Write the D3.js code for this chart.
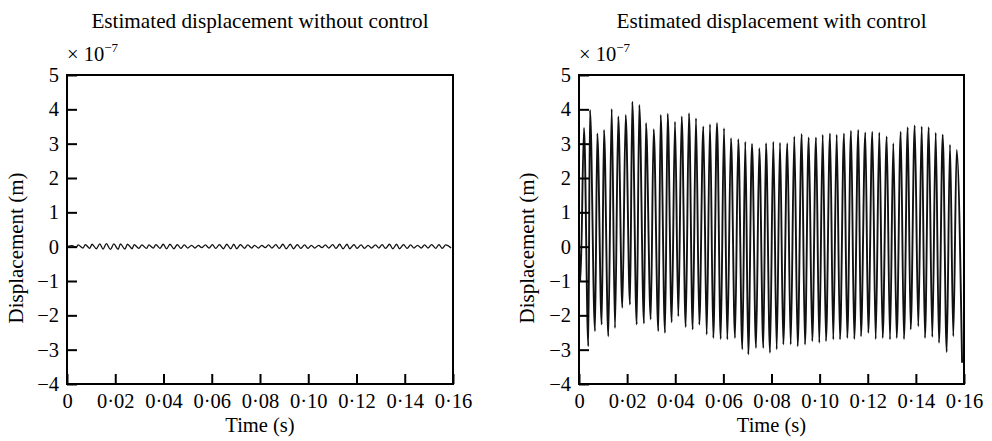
<!DOCTYPE html>
<html>
<head>
<meta charset="utf-8">
<script src="https://cdn.jsdelivr.net/npm/d3@7"></script>
<style>
  html, body { margin: 0; padding: 0; background: #fff; }
  svg { display: block; }
  text { font-family: "Liberation Serif", "DejaVu Serif", serif; fill: #000; }
</style>
</head>
<body>
<svg id="chart" width="992" height="441"></svg>
<script>
// ---- data (displacement in units of 1e-7 m, time in s) ----
const titles = ["Estimated displacement without control", "Estimated displacement with control"];
const xTicks = [0, 0.02, 0.04, 0.06, 0.08, 0.10, 0.12, 0.14, 0.16];
const yTicks = [-4, -3, -2, -1, 0, 1, 2, 3, 4, 5];

const peakT = [0.00208, 0.00457, 0.00761, 0.01039, 0.01359, 0.01633, 0.01941, 0.02215, 0.02506, 0.02784,
  0.03104, 0.03395, 0.03686, 0.03990, 0.04268, 0.04571, 0.04862, 0.05166, 0.05444, 0.05735,
  0.06026, 0.06317, 0.06620, 0.06911, 0.07190, 0.07493, 0.07771, 0.08075, 0.08353, 0.08657,
  0.08948, 0.09255, 0.09546, 0.09849, 0.10128, 0.10431, 0.10709, 0.11013, 0.11304, 0.11607,
  0.11898, 0.12189, 0.12480, 0.12787, 0.13062, 0.13369, 0.13660, 0.13951, 0.14242, 0.14533,
  0.14824, 0.15115, 0.15418, 0.15696];
const troughT = [0.00387, 0.00665, 0.00943, 0.01218, 0.01496, 0.01800, 0.02119, 0.02398, 0.02701, 0.02980,
  0.03296, 0.03574, 0.03852, 0.04127, 0.04434, 0.04725, 0.05000, 0.05307, 0.05582, 0.05889,
  0.06164, 0.06483, 0.06787, 0.07036, 0.07356, 0.07660, 0.07938, 0.08216, 0.08491, 0.08798,
  0.09088, 0.09392, 0.09695, 0.09986, 0.10265, 0.10568, 0.10847, 0.11150, 0.11441, 0.11719,
  0.12023, 0.12330, 0.12621, 0.12925, 0.13203, 0.13506, 0.13785, 0.14101, 0.14379, 0.14683,
  0.14961, 0.15281, 0.15555, 0.15920];

// with control
const peakWith = [3.46, 3.98, 3.30, 3.40, 4.01, 3.79, 3.84, 4.22, 4.13, 3.60,
  3.42, 3.84, 3.87, 3.64, 3.79, 3.89, 3.74, 3.50, 3.57, 3.60,
  3.45, 3.16, 3.13, 3.06, 2.99, 2.87, 3.01, 3.06, 3.03, 3.01,
  3.21, 3.28, 3.18, 3.18, 3.26, 3.30, 3.26, 3.30, 3.38, 3.40,
  3.33, 3.35, 3.33, 3.21, 3.01, 3.35, 3.48, 3.53, 3.50, 3.48,
  3.32, 3.26, 2.97, 2.82];
const troughWith = [-2.90, -2.46, -2.27, -2.61, -2.37, -1.78, -1.69, -2.27, -2.24, -2.12,
  -2.46, -2.51, -2.20, -2.03, -2.34, -2.41, -2.27, -2.56, -2.66, -2.69,
  -2.70, -2.66, -2.99, -3.14, -2.95, -2.95, -3.09, -2.99, -2.85, -2.85,
  -2.90, -2.85, -2.75, -2.80, -2.75, -2.70, -2.70, -2.66, -2.69, -2.61,
  -2.51, -2.69, -2.66, -2.70, -2.66, -2.69, -2.41, -2.32, -2.66, -2.63,
  -2.80, -3.07, -2.61, -3.38];
const startWithT = [0, 0.0006];
const startWithV = [0.3, -1.0];

// without control
const peakWithout = [0.03, 0.05, 0.06, 0.07, 0.08, 0.09, 0.08, 0.08, 0.07, 0.06,
  0.05, 0.05, 0.06, 0.07, 0.07, 0.06, 0.05, 0.04, 0.04, 0.05,
  0.06, 0.06, 0.07, 0.07, 0.06, 0.05, 0.04, 0.04, 0.05, 0.06,
  0.07, 0.07, 0.06, 0.05, 0.04, 0.04, 0.05, 0.06, 0.07, 0.07,
  0.06, 0.05, 0.04, 0.05, 0.06, 0.07, 0.07, 0.06, 0.05, 0.04,
  0.05, 0.06, 0.06, 0.05];
const troughWithout = [-0.02, -0.04, -0.05, -0.06, -0.07, -0.08, -0.08, -0.07, -0.06, -0.05,
  -0.05, -0.04, -0.05, -0.06, -0.06, -0.05, -0.04, -0.04, -0.03, -0.04,
  -0.05, -0.06, -0.06, -0.06, -0.05, -0.04, -0.04, -0.03, -0.04, -0.05,
  -0.06, -0.06, -0.05, -0.05, -0.04, -0.03, -0.04, -0.05, -0.06, -0.06,
  -0.05, -0.05, -0.04, -0.04, -0.05, -0.06, -0.06, -0.05, -0.04, -0.04,
  -0.04, -0.05, -0.05, -0.04];
const startWithoutT = [0];
const startWithoutV = [0];

function buildSeries(sT, sV, pT, pV, tT, tV) {
  const pts = [];
  sT.forEach((t, i) => pts.push({t, v: sV[i]}));
  pT.forEach((t, i) => pts.push({t, v: pV[i]}));
  tT.forEach((t, i) => pts.push({t, v: tV[i]}));
  pts.sort((a, b) => a.t - b.t);
  return pts;
}
const seriesWithout = buildSeries(startWithoutT, startWithoutV, peakT, peakWithout, troughT, troughWithout);
const seriesWith = buildSeries(startWithT, startWithV, peakT, peakWith, troughT, troughWith);

// ---- layout ----
const svg = d3.select("#chart");
const panels = [
  {left: 67, right: 453, data: seriesWithout, title: titles[0], ylabX: 23},
  {left: 579, right: 964, data: seriesWith, title: titles[1], ylabX: 534}
];
const plotTop = 75, plotBottom = 384;
const fmtX = d => d === 0 ? "0" : d3.format(".2f")(d).replace(".", "\u00B7");

panels.forEach((p, idx) => {
  const x = d3.scaleLinear().domain([0, 0.16]).range([p.left, p.right]);
  const y = d3.scaleLinear().domain([-4, 5]).range([plotBottom, plotTop]);
  const g = svg.append("g");

  const clipId = "clip" + idx;
  svg.append("clipPath").attr("id", clipId).append("rect")
    .attr("x", p.left).attr("y", plotTop).attr("width", p.right - p.left).attr("height", plotBottom - plotTop);

  const line = d3.line().x(d => x(d.t)).y(d => y(d.v)).curve(d3.curveMonotoneX);
  g.append("path").datum(p.data)
    .attr("clip-path", `url(#${clipId})`)
    .attr("fill", "none").attr("stroke", "#111")
    .attr("stroke-width", idx === 0 ? 1.3 : 1.9).attr("stroke-linejoin", "round")
    .attr("d", line);

  // axes
  const xAxis = d3.axisBottom(x).tickValues(xTicks).tickFormat(fmtX)
    .tickSizeInner(-10).tickSizeOuter(0).tickPadding(9);
  const gx = g.append("g").attr("transform", `translate(0,${plotBottom})`).call(xAxis);
  gx.attr("font-family", null);
  gx.select(".domain").remove();
  gx.selectAll(".tick line").attr("stroke", "#000").attr("stroke-width", 2);
  gx.selectAll(".tick text").attr("font-size", 20.5);

  const yAxis = d3.axisLeft(y).tickValues(yTicks).tickFormat(d3.format("d"))
    .tickSizeInner(-10).tickSizeOuter(0).tickPadding(8);
  const gy = g.append("g").attr("transform", `translate(${p.left},0)`).call(yAxis);
  gy.attr("font-family", null);
  gy.select(".domain").remove();
  gy.selectAll(".tick line").attr("stroke", "#000").attr("stroke-width", 2);
  gy.selectAll(".tick text").attr("font-size", 20.5);

  // frame
  g.append("rect").attr("x", p.left).attr("y", plotTop)
    .attr("width", p.right - p.left).attr("height", plotBottom - plotTop)
    .attr("fill", "none").attr("stroke", "#000").attr("stroke-width", 2);

  // title
  g.append("text").attr("x", (p.left + p.right) / 2).attr("y", 28)
    .attr("text-anchor", "middle").attr("font-size", 21.2).text(p.title);

  // exponent
  const ex = g.append("text").attr("x", p.left).attr("y", 61).attr("font-size", 20.5);
  ex.append("tspan").text("\u00D7 10");
  ex.append("tspan").attr("font-size", 13).attr("dy", -9).text("\u22127");

  // x label
  g.append("text").attr("x", (p.left + p.right) / 2).attr("y", 432)
    .attr("text-anchor", "middle").attr("font-size", 20.5).text("Time (s)");

  // y label
  g.append("text").attr("transform", `translate(${p.ylabX},248) rotate(-90)`)
    .attr("text-anchor", "middle").attr("font-size", 21).text("Displacement (m)");
});
</script>
</body>
</html>
